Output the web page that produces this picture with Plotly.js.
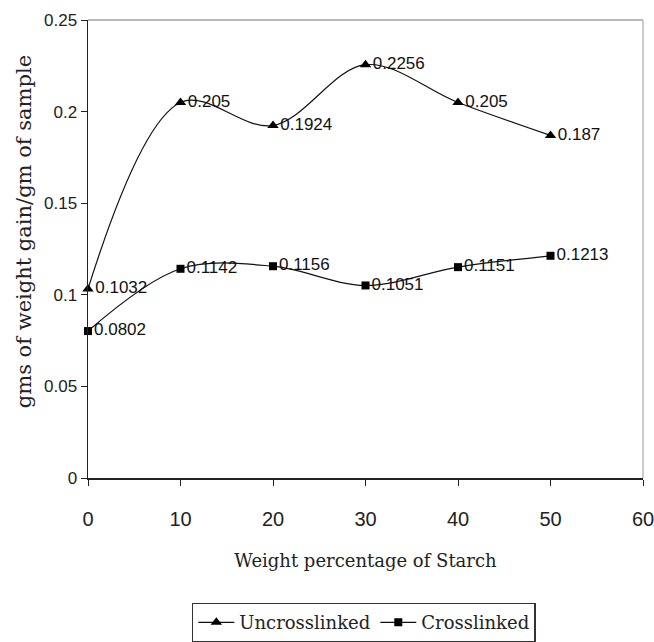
<!DOCTYPE html>
<html>
<head>
<meta charset="utf-8">
<script src="https://cdn.plot.ly/plotly-3.0.1.min.js"></script>
<style>html,body{margin:0;padding:0;background:#fff;}#chart{width:654px;height:642px;}</style>
</head>
<body>
<div id="chart"></div>
<script>
// Weight percentage of starch in the sample
const starchPct = [0, 10, 20, 30, 40, 50];
// Weight gain per gram of sample
const uncrosslinked = [0.1032, 0.205, 0.1924, 0.2256, 0.205, 0.187];
const crosslinked = [0.0802, 0.1142, 0.1156, 0.1051, 0.1151, 0.1213];
const xTicks = [0, 10, 20, 30, 40, 50, 60];
const yTicks = [0, 0.05, 0.1, 0.15, 0.2, 0.25];
const yTickText = ['0', '0.05', '0.1', '0.15', '0.2', '0.25'];
const yTitle = 'gms of weight gain/gm of sample';
const xTitle = 'Weight percentage of Starch';

const sans = 'Liberation Sans, Arial, sans-serif';
const serif = 'DejaVu Serif, Liberation Serif, serif';
const labelFont = {family: sans, size: 17, color: '#111'};

function series(name, y, symbol, size) {
  return {
    x: starchPct, y: y, name: name,
    type: 'scatter', mode: 'lines+markers+text',
    line: {color: '#111', width: 1.2, shape: 'spline', smoothing: 1},
    marker: {symbol: symbol, size: size, color: '#000'},
    text: y.map(v => String(v)),
    textposition: 'middle right',
    textfont: labelFont,
    cliponaxis: false
  };
}

const data = [
  series('Uncrosslinked', uncrosslinked, 'triangle-up', 10),
  series('Crosslinked', crosslinked, 'square', 8)
];

const layout = {
  width: 654, height: 642,
  margin: {l: 88, r: 11, t: 20, b: 164, autoexpand: false},
  paper_bgcolor: '#fff', plot_bgcolor: '#fff',
  showlegend: true,
  xaxis: {
    range: [0, 60], tickvals: xTicks, ticktext: xTicks.map(String),
    showgrid: false, zeroline: false,
    showline: true, linecolor: '#222', linewidth: 1.5,
    ticks: 'outside', ticklen: 6, tickcolor: '#222',
    ticklabelstandoff: 16, ticklabeloverflow: 'allow',
    tickfont: {family: sans, size: 20, color: '#222'},
    title: {text: xTitle, standoff: 26,
            font: {family: serif, size: 18, color: '#222'}}
  },
  yaxis: {
    range: [0, 0.25], tickvals: yTicks, ticktext: yTickText,
    showgrid: false, zeroline: false,
    showline: true, linecolor: '#222', linewidth: 1.5,
    ticks: 'outside', ticklen: 6, tickcolor: '#222',
    tickfont: {family: sans, size: 17, color: '#222'}
  },
  annotations: [{
    text: yTitle, textangle: -90, showarrow: false,
    xref: 'paper', yref: 'paper', x: -0.115, y: 0.537,
    xanchor: 'center', yanchor: 'middle',
    font: {family: serif, size: 21, color: '#222'}
  }],
  shapes: [
    {type: 'line', xref: 'paper', yref: 'paper', x0: 0, x1: 1, y0: 1, y1: 1, line: {color: '#777', width: 1}},
    {type: 'line', xref: 'paper', yref: 'paper', x0: 1, x1: 1, y0: 0, y1: 1, line: {color: '#bbb', width: 1.5}}
  ],
  legend: {
    orientation: 'h', x: 0.497, xanchor: 'center', y: -0.272, yanchor: 'top',
    bordercolor: '#333', borderwidth: 1.5, bgcolor: '#fff',
    font: {family: serif, size: 18, color: '#222'},
    itemwidth: 36, tracegroupgap: 0
  }
};

Plotly.newPlot('chart', data, layout, {displayModeBar: false, staticPlot: true});
</script>
</body>
</html>
